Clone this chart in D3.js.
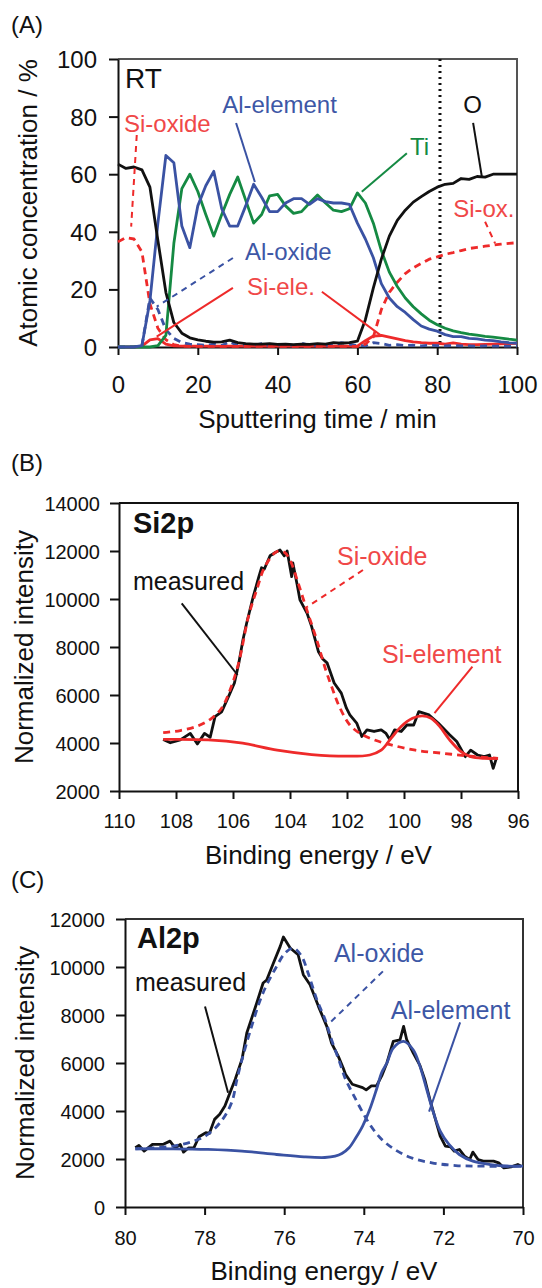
<!DOCTYPE html>
<html>
<head>
<meta charset="utf-8">
<script src="https://cdn.jsdelivr.net/npm/d3@7"></script>
<style>
  body { margin: 0; background: #fff; }
  svg text { font-family: "Liberation Sans", Arial, Helvetica, sans-serif; }
</style>
</head>
<body>
<div id="root"></div>
<script>
// ---------- (A) depth profile, atomic % vs sputtering time ----------
const sputterTime = [0,2,4,6,8,10,12,14,16,18,20,22,24,26,28,30,32,34,36,38,40,42,44,46,48,50,
  52,54,56,58,60,62,64,66,68,70,72,74,76,78,80,82,84,86,88,90,92,94,96,98,100];
const oxygen = [63.5,62,62.5,61.5,55.5,37,19,8.5,4.8,3.2,2.5,2,1.7,1.8,2.4,1.5,1.2,1,1,1.2,0.9,1,0.8,1,0.9,1.2,
  1,1.5,1.3,1.5,2,9.5,20.5,30.5,38.5,44,47.5,50.3,52.2,54,55.5,56.5,56.8,58.5,58.2,59.2,59,60,60,60,60];
const alElement = [0,0,0,0.5,16,43,66.5,64,42,34.5,49,56,61,48,42,42,49,56.5,52,47,47,50,51.5,51.5,49.5,51.5,
  50.5,50,50,49.5,43,37.5,31,22,17,14,12,9.5,7.3,6.2,5.5,4.3,3.6,3.6,3,2.8,2.4,2.2,1.8,1.5,1.3];
const titanium = [0,0,0,0,0,0.5,4,36,55,60,54,46,38.5,46,53,59,51,43,46,52.5,53,49,46.4,47,50,52.8,
  50,47.5,47,48,53.5,50,43,33.5,26,21,17,14,11.5,9.3,7.7,6.5,5.6,5,4.5,4.1,3.7,3.4,3.1,2.7,2.4];
const siOxide = [36.5,38,37.5,33,15,6.5,2.5,0.8,0.3,0.2,0.2,0.2,0.2,0.2,0.2,0.2,0.2,0.2,0.2,0.2,0.2,0.2,0.2,0.2,0.2,0.2,
  0.2,0.2,0.2,0.2,0.2,1,3.5,13,19,22.5,25.5,27.5,29,30.5,31.3,32.2,32.8,33.5,34.2,34.6,35,35.4,35.7,36,36.2];
const siElement = [0,0,0,0.3,2.5,2.9,1,0.4,0.3,0.3,0.3,0.3,0.3,0.3,0.3,0.3,0.3,0.3,0.3,0.3,0.3,0.3,0.3,0.3,0.3,0.3,
  0.3,0.3,0.3,0.3,0.3,2.2,3.8,4,3.4,2.8,2.2,1.8,1.5,1.3,1.3,1,1.4,1,0.8,0.8,0.9,1,1.1,1.2,1.3];
const alOxide = [0,0,0,0.5,17,13,6,3,1.5,1,0.8,0.6,1,0.5,1.8,0.5,0.8,0.6,1.2,0.5,0.6,0.8,0.5,1.3,0.6,0.5,
  0.7,0.5,1.5,1,0.5,0.4,1.5,1.2,0.6,0.8,0.5,0.6,0.4,0.6,0.5,0.4,0.5,0.4,0.4,0.3,0.4,0.3,0.3,0.3,0.3];
const timeTicks = [0,20,40,60,80,100];
const concTicks = [0,20,40,60,80,100];
const markerTime = 80.7;

// ---------- (B) Si2p spectrum ----------
const si2pMeasuredE = [108.45,108.2,107.85,107.5,107.25,107.0,106.8,106.63,106.4,106.15,105.95,105.8,105.65,105.52,105.29,
  105.1,105.0,104.9,104.7,104.5,104.35,104.2,104.1,103.94,103.9,103.75,103.65,103.4,103.24,103.0,102.85,102.7,102.45,102.2,
  102.02,101.9,101.66,101.48,101.3,101.05,100.8,100.63,100.5,100.33,100.1,99.9,99.66,99.48,99.12,98.8,98.57,98.4,98.15,
  97.85,97.66,97.42,97.18,97.0,96.87,96.75];
const si2pMeasuredI = [4150,4010,4130,4400,3960,4400,4240,5100,5300,5950,6500,7300,8300,9000,10100,
  10900,11300,11250,11800,11950,12040,11800,12000,10930,11500,10600,9960,9400,8850,7800,7500,7340,6500,6080,
  5450,5170,4830,4270,4550,4480,4550,4400,4150,4550,4480,4750,4750,5310,5170,4830,4550,4340,4060,
  3430,3700,3500,3430,3500,2940,3400];
const si2pOxideE = [108.45,107.85,107.24,106.75,106.4,106.1,105.8,105.46,105.17,104.88,104.47,104.2,104.0,103.71,103.41,
  103.06,102.75,102.5,102.27,101.9,101.54,101.05,100.45,99.6,98.63,97.66,96.7];
const si2pOxideI = [4430,4520,4710,5030,5450,6220,7340,9260,10375,11350,11970,11950,11625,10650,9540,
  8290,7060,6220,5520,4750,4400,4130,3920,3700,3570,3450,3360];
const si2pElementE = [108.45,106.87,105.66,104.45,103.24,102.02,101.2,100.8,100.45,100.1,99.7,99.36,99.05,98.75,98.4,
  98.0,97.66,97.18,96.7];
const si2pElementI = [4150,4130,3990,3700,3520,3450,3500,3700,4200,4690,5030,5130,5030,4690,4130,3640,3430,3360,3360];
const si2pEnergyTicks = [110,108,106,104,102,100,98,96];
const si2pIntensityTicks = [2000,4000,6000,8000,10000,12000,14000];

// ---------- (C) Al2p spectrum ----------
const al2pMeasuredE = [79.74,79.65,79.52,79.31,79.05,78.87,78.74,78.61,78.53,78.4,78.27,78.14,77.97,77.88,77.75,77.62,
  77.49,77.36,77.23,77.06,76.94,76.69,76.53,76.44,76.27,76.1,76.02,75.85,75.65,75.52,75.35,75.14,74.93,74.81,74.64,
  74.52,74.46,74.29,74.03,73.94,73.81,73.68,73.55,73.42,73.26,73.09,73.0,72.92,72.76,72.59,72.47,72.34,72.2,72.08,
  71.95,71.82,71.73,71.6,71.47,71.34,71.26,71.13,71.0,70.74,70.61,70.48,70.3,70.13,70.04];
const al2pMeasuredI = [2467,2564,2327,2606,2606,2745,2467,2606,2286,2467,2467,2927,3094,3066,3651,3861,
  4209,4767,5324,6160,7250,8500,9333,9460,10170,10860,11250,10790,10510,9680,9260,8360,7525,6830,6275,
  5800,5533,5115,4975,4878,5045,5045,5463,6000,6900,6960,7525,6960,6420,5900,5324,4488,3650,2955,
  2536,2508,2327,2397,2118,1979,2286,1979,1909,1909,1840,1630,1672,1770,1700];
const al2pOxideE = [79.74,78.79,78.27,77.92,77.58,77.32,77.19,77.06,76.86,76.6,76.44,76.19,75.98,75.77,75.56,
  75.4,75.18,74.97,74.81,74.6,74.46,74.29,74.07,73.85,73.59,73.25,72.81,72.29,71.69,71.0,70.0];
const al2pOxideI = [2425,2536,2745,3024,3582,4350,5300,6150,7300,8640,9250,10025,10580,10790,10440,
  9750,8640,7800,6970,6000,5324,4767,4070,3443,2885,2425,2050,1840,1728,1700,1700];
const al2pElementE = [79.74,78.79,77.92,77.06,76.19,75.5,74.98,74.72,74.55,74.37,74.2,74.03,73.85,73.68,73.55,
  73.42,73.26,73.0,72.76,72.59,72.42,72.25,72.08,71.86,71.6,71.26,70.82,70.39,70.0];
const al2pElementI = [2425,2425,2397,2327,2188,2090,2063,2118,2230,2467,2885,3373,4070,4906,5603,
  6000,6625,6900,6550,5870,4906,3930,3163,2606,2188,1909,1770,1700,1700];
const al2pEnergyTicks = [80,78,76,74,72,70];
const al2pIntensityTicks = [0,2000,4000,6000,8000,10000,12000];

// ---------- styles ----------
const RED = '#ee2a2a', RED_TXT = '#f04848';
const BLUE = '#3a52a3', BLUE_TXT = '#3d57a6';
const GREEN = '#158a43';
const DASH = '7,5';

const svg = d3.select('#root').append('svg')
  .attr('width', 542)
  .attr('height', 1288);

// builds the frame, axes and titles of one panel, returns its scales
function panel(cfg) {
  const x = d3.scaleLinear().domain(cfg.xDomain).range([cfg.left, cfg.right]);
  const y = d3.scaleLinear().domain(cfg.yDomain).range([cfg.bottom, cfg.top]);
  const g = svg.append('g');

  g.append('path')
    .attr('d', `M${cfg.left},${cfg.top}H${cfg.right}V${cfg.bottom}`)
    .attr('fill', 'none')
    .attr('stroke', cfg.frame)
    .attr('stroke-width', 2);

  const xa = g.append('g')
    .attr('transform', `translate(0,${cfg.bottom})`)
    .call(d3.axisBottom(x).tickValues(cfg.xTicks).tickSize(8).tickSizeOuter(0).tickFormat(d3.format('d')));
  xa.selectAll('text').attr('y', cfg.xLabelY).attr('dy', 0)
    .style('font-size', cfg.tickFont + 'px').attr('fill', '#111');

  const ya = g.append('g')
    .attr('transform', `translate(${cfg.left},0)`)
    .call(d3.axisLeft(y).tickValues(cfg.yTicks).tickSize(9).tickSizeOuter(0).tickFormat(d3.format('d')));
  ya.selectAll('text').attr('x', cfg.yLabelX).attr('dy', '0.35em')
    .style('font-size', cfg.tickFont + 'px').attr('fill', '#111');

  [xa, ya].forEach(a => {
    a.selectAll('path, line').attr('stroke', '#111').attr('stroke-width', 2);
    a.attr('font-family', null);
  });

  g.append('text')
    .attr('x', (cfg.left + cfg.right) / 2)
    .attr('y', cfg.xTitleY)
    .attr('text-anchor', 'middle')
    .style('font-size', '26px')
    .attr('fill', '#111')
    .text(cfg.xTitle);

  g.append('text')
    .attr('transform', `translate(${cfg.yTitleX},${(cfg.top + cfg.bottom) / 2}) rotate(-90)`)
    .attr('text-anchor', 'middle')
    .style('font-size', '26px')
    .attr('fill', '#111')
    .text(cfg.yTitle);

  g.append('text')
    .attr('x', 11)
    .attr('y', cfg.letterY)
    .style('font-size', '24px')
    .attr('fill', '#111')
    .text(cfg.letter);

  return {x, y, g};
}

function curve(p, xs, ys, color, dashed, width, shape) {
  const line = d3.line()
    .x(d => p.x(d[0]))
    .y(d => p.y(d[1]))
    .curve(shape || d3.curveLinear);
  p.g.append('path')
    .datum(xs.map((v, i) => [v, ys[i]]))
    .attr('d', line)
    .attr('fill', 'none')
    .attr('stroke', color)
    .attr('stroke-width', width || 2.8)
    .attr('stroke-linejoin', 'round')
    .attr('stroke-dasharray', dashed ? DASH : null);
}

function label(p, txt, at, color, size, bold) {
  p.g.append('text')
    .attr('x', p.x(at[0]))
    .attr('y', p.y(at[1]))
    .style('font-size', size + 'px')
    .style('font-weight', bold ? 'bold' : null)
    .attr('fill', color)
    .text(txt);
}

function leader(p, from, to, color, dashed) {
  p.g.append('line')
    .attr('x1', p.x(from[0])).attr('y1', p.y(from[1]))
    .attr('x2', p.x(to[0])).attr('y2', p.y(to[1]))
    .attr('stroke', color)
    .attr('stroke-width', 2)
    .attr('stroke-dasharray', dashed ? '6,5' : null);
}

// ---------- panel A ----------
const pA = panel({
  left: 118, right: 517, top: 59, bottom: 347,
  xDomain: [0, 100], yDomain: [0, 100],
  xTicks: timeTicks, yTicks: concTicks,
  tickFont: 24, xLabelY: 46, yLabelX: -21,
  xTitle: 'Sputtering time / min', xTitleY: 428,
  yTitle: 'Atomic concentration / %', yTitleX: 37,
  letter: '(A)', letterY: 33, frame: '#555'
});

pA.g.append('line')
  .attr('x1', pA.x(markerTime)).attr('x2', pA.x(markerTime))
  .attr('y1', pA.y(100)).attr('y2', pA.y(0))
  .attr('stroke', '#111')
  .attr('stroke-width', 3)
  .attr('stroke-dasharray', '2,4');

curve(pA, sputterTime, siElement, RED, false);
curve(pA, sputterTime, alOxide, BLUE, true);
curve(pA, sputterTime, siOxide, RED, true);
curve(pA, sputterTime, titanium, GREEN, false);
curve(pA, sputterTime, alElement, BLUE, false);
curve(pA, sputterTime, oxygen, '#111', false);

label(pA, 'RT', [1.75, 89.9], '#111', 28);
label(pA, 'Si-oxide', [1.5, 74.7], RED_TXT, 24);
leader(pA, [4.7, 73.6], [3.3, 41.8], RED, true);
label(pA, 'Al-element', [26.1, 81.2], BLUE_TXT, 24);
leader(pA, [29.6, 77.8], [34.3, 57.3], BLUE, false);
label(pA, 'Ti', [73.2, 66.7], GREEN, 24);
leader(pA, [72.4, 67.3], [61.1, 53.9], GREEN, false);
label(pA, 'O', [86.5, 81.2], '#111', 24);
leader(pA, [89.0, 77.8], [91.2, 59.1], '#111', false);
label(pA, 'Si-ox.', [84.0, 45.1], RED_TXT, 24);
leader(pA, [92.0, 43.5], [94.5, 36.0], RED, true);
label(pA, 'Al-oxide', [31.8, 30.2], BLUE_TXT, 24);
leader(pA, [28.8, 30.9], [9.7, 14.0], BLUE, true);
label(pA, 'Si-ele.', [32.3, 18.1], RED_TXT, 24);
leader(pA, [28.8, 20.5], [9.7, 3.6], RED, false);
leader(pA, [51.1, 19.2], [65.7, 4.2], RED, false);

// ---------- panel B ----------
const pB = panel({
  left: 119, right: 518, top: 503, bottom: 791,
  xDomain: [110, 96], yDomain: [2000, 14000],
  xTicks: si2pEnergyTicks, yTicks: si2pIntensityTicks,
  tickFont: 20, xLabelY: 37, yLabelX: -19,
  xTitle: 'Binding energy / eV', xTitleY: 864,
  yTitle: 'Normalized intensity', yTitleX: 33,
  letter: '(B)', letterY: 471, frame: '#111'
});

curve(pB, si2pMeasuredE, si2pMeasuredI, '#111', false);
curve(pB, si2pElementE, si2pElementI, RED, false, 2.8, d3.curveCatmullRom);
curve(pB, si2pOxideE, si2pOxideI, RED, true, 2.8, d3.curveCatmullRom);

label(pB, 'Si2p', [109.51, 12750], '#111', 29, true);
label(pB, 'measured', [109.51, 10375], '#111', 25);
leader(pB, [107.8, 9820], [105.84, 6833], '#111', false);
label(pB, 'Si-oxide', [102.35, 11417], RED_TXT, 25);
leader(pB, [101.44, 11208], [103.4, 9667], RED, true);
label(pB, 'Si-element', [100.77, 7333], RED_TXT, 25);
leader(pB, [97.6, 7180], [98.93, 5240], RED, false);

// ---------- panel C ----------
const pC = panel({
  left: 125, right: 523, top: 919, bottom: 1207,
  xDomain: [80, 70], yDomain: [0, 12000],
  xTicks: al2pEnergyTicks, yTicks: al2pIntensityTicks,
  tickFont: 20, xLabelY: 38, yLabelX: -20,
  xTitle: 'Binding energy / eV', xTitleY: 1280,
  yTitle: 'Normalized intensity', yTitleX: 34,
  letter: '(C)', letterY: 888, frame: '#333'
});

curve(pC, al2pMeasuredE, al2pMeasuredI, '#111', false);
curve(pC, al2pElementE, al2pElementI, BLUE, false, 2.8, d3.curveCatmullRom);
curve(pC, al2pOxideE, al2pOxideI, BLUE, true, 2.8, d3.curveCatmullRom);

label(pC, 'Al2p', [79.7, 10800], '#111', 29, true);
label(pC, 'measured', [79.75, 9012], '#111', 25);
leader(pC, [77.99, 8358], [77.41, 4763], '#111', false);
label(pC, 'Al-oxide', [74.75, 10220], BLUE_TXT, 25);
leader(pC, [73.52, 9817], [74.85, 7679], BLUE, true);
label(pC, 'Al-element', [73.32, 7846], BLUE_TXT, 25);
leader(pC, [71.58, 7692], [72.36, 3971], BLUE, false);
</script>
</body>
</html>
